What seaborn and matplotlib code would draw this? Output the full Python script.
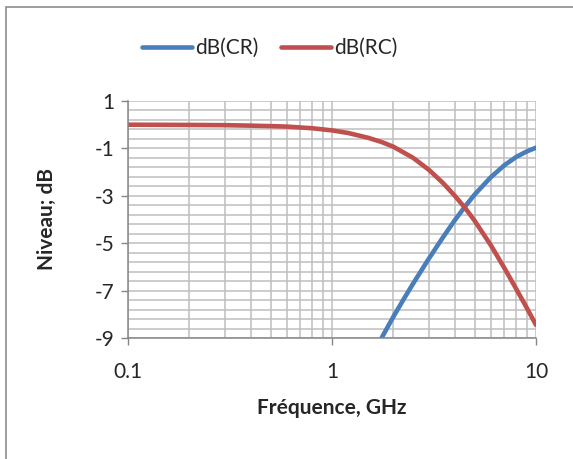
import matplotlib
matplotlib.use("Agg")
import matplotlib.pyplot as plt
import matplotlib.ticker as mticker
from matplotlib.patches import Rectangle
import numpy as np
import pandas as pd
import seaborn as sns

# values
freq_rc = [0.1, 0.2, 0.3, 0.4, 0.5, 0.6, 0.8, 1.0, 1.2, 1.5, 1.75, 2.0, 2.5, 3.0, 3.5, 4.0, 4.5, 5.0, 6.0, 7.0, 8.0, 9.0, 10.0]
db_rc = [0.0, -0.01, -0.02, -0.04, -0.06, -0.08, -0.15, -0.24, -0.35, -0.55, -0.73, -0.93, -1.4, -1.92, -2.46,
         -3.0, -3.52, -4.05, -5.08, -6.05, -6.93, -7.72, -8.45]

freq_cr = [1.75, 2.0, 2.25, 2.5, 3.0, 3.5, 4.0, 4.5, 5.0, 6.0, 7.0, 8.0, 9.0, 10.0]
db_cr = [-9.0, -8.1, -7.35, -6.7, -5.62, -4.75, -4.03, -3.44, -2.95, -2.22, -1.71, -1.36, -1.13, -0.97]

series_names = ["dB(CR)", "dB(RC)"]
y_ticks = [1, -1, -3, -5, -7, -9]
x_ticks = [0.1, 1, 10]
x_tick_labels = ["0.1", "1", "10"]

df = pd.concat([
    pd.DataFrame({"f": freq_cr, "dB": db_cr, "serie": series_names[0]}),
    pd.DataFrame({"f": freq_rc, "dB": db_rc, "serie": series_names[1]}),
])

sns.set_style("white")
plt.rcParams["font.family"] = ["Lato", "DejaVu Sans"]
plt.rcParams["axes.unicode_minus"] = False

W, H = 573, 459
fig = plt.figure(figsize=(W / 100, H / 100), dpi=100)
ax = fig.add_axes([128 / W, 1 - 338 / H, (536 - 128) / W, (338 - 101) / H])

# chart border like the Excel frame
fig.patches.append(Rectangle((6 / W, -0.05), 1.2, 1 - 7 / H + 0.05, transform=fig.transFigure,
                             fill=False, edgecolor="#8c8c8c", linewidth=1.2))

sns.lineplot(data=df, x="f", y="dB", hue="serie", ax=ax, sort=False,
             palette={"dB(CR)": "#4a7ebb", "dB(RC)": "#c0504d"}, linewidth=3.3,
             solid_capstyle="round", solid_joinstyle="round")

ax.set_xscale("log")
ax.set_xlim(0.1, 10)
ax.set_ylim(-9, 1)

ax.xaxis.set_major_locator(mticker.FixedLocator(x_ticks))
ax.xaxis.set_major_formatter(mticker.FixedFormatter(x_tick_labels))
ax.xaxis.set_minor_locator(mticker.LogLocator(base=10, subs=np.arange(2, 10)))
ax.xaxis.set_minor_formatter(mticker.NullFormatter())
ax.yaxis.set_major_locator(mticker.FixedLocator(y_ticks))
ax.yaxis.set_minor_locator(mticker.FixedLocator(np.arange(-9, 1.01, 0.4)))

ax.grid(True, which="both", color="#bfbfbf", linewidth=1.1)
ax.set_axisbelow(True)
ax.tick_params(axis="both", which="major", length=5, width=1, color="#868686",
               labelsize=15, pad=5, direction="out", left=True, bottom=True)
ax.tick_params(axis="both", which="minor", length=0)
ax.tick_params(axis="x", pad=12)

for side in ["top", "right"]:
    ax.spines[side].set_visible(False)
for side in ["left", "bottom"]:
    ax.spines[side].set_color("#868686")
    ax.spines[side].set_linewidth(1.1)

ax.set_xlabel("Fréquence, GHz", fontsize=15, fontweight="bold", labelpad=12)
ax.set_ylabel("Niveau; dB", fontsize=15, fontweight="bold", labelpad=27)

handles, labels = ax.get_legend_handles_labels()
ax.legend(handles, labels, loc="center", bbox_to_anchor=(270 / W, 1 - 48 / H),
          bbox_transform=fig.transFigure, ncol=2, frameon=False, fontsize=15,
          handlelength=2.4, handletextpad=0.15, columnspacing=1.1)

fig.savefig("out.png", dpi=100)
